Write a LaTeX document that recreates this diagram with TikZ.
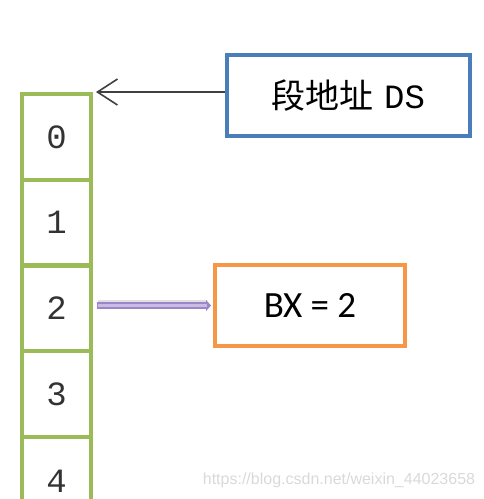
\documentclass[tikz,border=0pt]{standalone}
\usepackage{fontspec}
\newfontfamily\cjkf{Noto Sans CJK SC}
\newfontfamily\monof{Liberation Mono}
\newfontfamily\calf{Carlito}
\newfontfamily\wmf{Liberation Sans}
\usetikzlibrary{arrows.meta}
\definecolor{cgreen}{HTML}{9BBB59}
\definecolor{cblue}{HTML}{4A7EBB}
\definecolor{corange}{HTML}{F79646}
\definecolor{cpurple}{HTML}{9A86C8}
\definecolor{cpurplel}{HTML}{C9BCE4}
\tikzset{
  cell/.style={draw=cgreen, line width=4pt, minimum width=69pt, minimum height=85.75pt, inner sep=0pt,
    font=\monof\fontsize{34}{34}\selectfont, text=black!80},
  digit/.style={font=\monof\fontsize{34}{34}\selectfont, text=black!80},
  bluebox/.style={draw=cblue, line width=4.5pt, minimum width=243pt, minimum height=81pt, inner sep=0pt},
  orangebox/.style={draw=corange, line width=4pt, minimum width=190pt, minimum height=81pt, inner sep=0pt,
    font=\calf\fontsize{37}{37}\selectfont},
}
\begin{document}
\begin{tikzpicture}[x=1pt,y=-1pt]
\useasboundingbox (0,0) rectangle (484,499);
\node[cell] (c0) at (56.5,136.9) {0};
\node[cell] (c1) at (56.5,222.6) {1};
\node[cell] (c2) at (56.5,308.4) {2};
\node[cell] (c3) at (56.5,394.1) {3};
\node[cell] (c4) at (56.5,479.9) {};
\node[digit] (l4) at (56.5,481) {4};
\node[bluebox] (ds) at (348.5,95.5) {\fontsize{34}{34}\selectfont{\cjkf 段地址} {\monof DS}};
\node[orangebox] (bx) at (310,305.5) {BX = 2};
\node[font=\wmf\fontsize{16}{16}\selectfont, text=black!15] (wm) at (339,480) {https://blog.csdn.net/weixin\_44023658};
\coordinate (tip) at ([xshift=3pt]c0.north east);
\draw[line width=1.4pt, black!75, -{Straight Barb[length=20pt,width=26pt,line width=1.6pt]}] (ds.west |- tip) -- (tip);
\coordinate (ps) at ([xshift=2pt]c2.east |- bx.west);
\draw[line width=5pt, black!12, shorten <=3pt, shorten >=6pt] ([yshift=3pt]ps) -- ([yshift=3pt]bx.west);
\draw[line width=7pt, cpurple, -{Triangle[length=5pt,width=11pt]}, shorten <=2pt, shorten >=2pt] (ps) -- (bx.west);
\draw[line width=3.5pt, cpurplel, shorten <=3pt, shorten >=6pt] (ps) -- (bx.west);
\end{tikzpicture}
\end{document}
